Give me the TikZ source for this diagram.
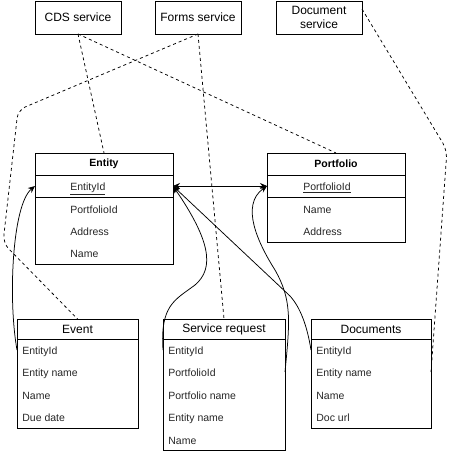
\documentclass[tikz,border=0pt]{standalone}
\usepackage{fontspec}
\setmainfont{Liberation Sans}
\usetikzlibrary{arrows.meta,positioning}

\begin{document}
\begin{tikzpicture}[
		x=1pt, y=-1pt,
		line width=0.75pt,
		svcbox/.style={draw, align=center, minimum width=86pt, minimum height=33pt, inner sep=1pt, outer sep=0pt, font=\fontsize{12}{13.5}\selectfont},
		enthead/.style={draw, minimum width=138pt, minimum height=22pt, outer sep=0pt, font=\fontsize{10.5}{12}\selectfont\bfseries},
		keyrow/.style={draw, minimum width=138pt, minimum height=22pt, outer sep=0pt},
		linkhead/.style={draw, minimum height=20pt, outer sep=0pt, font=\fontsize{12}{14}\selectfont},
		tblbody/.style={draw, outer sep=0pt},
		field/.style={anchor=west, inner sep=0pt, text height=8.5pt, text depth=0pt, text=black!85, font=\fontsize{10.5}{12}\selectfont},
		link/.style={dashed},
		fkarrow/.style={-{Stealth[length=7pt, width=6pt]}}
	]
		\useasboundingbox (0,0) rectangle (450,454);
		\node[svcbox] (cds) at (78,17.5) {CDS service};
		\node[svcbox] (forms) at (198,17.5) {Forms service};
		\node[svcbox] (docsvc) at (319,17.5) {Document\\service};

		\node[enthead] (ent-head) at (104,164) {Entity};
		\node[keyrow, below=0pt of ent-head] (ent-key) {};
		\node[tblbody, minimum width=138pt, minimum height=67pt, below=0pt of ent-key] (ent-body) {};
		\node[field] (ent-eid) at (70,186) {\underline{EntityId}};
		\node[field] (ent-pid) at (70,209) {PortfolioId};
		\node[field] (ent-addr) at (70,231) {Address};
		\node[field] (ent-name) at (70,253) {Name};

		\node[enthead] (pf-head) at (336,164) {Portfolio};
		\node[keyrow, below=0pt of pf-head] (pf-key) {};
		\node[tblbody, minimum width=138pt, minimum height=45pt, below=0pt of pf-key] (pf-body) {};
		\node[field] (pf-pid) at (303,186) {\underline{PortfolioId}};
		\node[field] (pf-name) at (303,209) {Name};
		\node[field] (pf-addr) at (303,231) {Address};

		\node[linkhead, minimum width=121pt] (ev-head) at (77.5,329) {Event};
		\node[tblbody, minimum width=121pt, minimum height=89pt, below=0pt of ev-head] (ev-body) {};
		\node[field] (ev-eid) at (22,350) {EntityId};
		\node[field] (ev-ename) at (22,372) {Entity name};
		\node[field] (ev-name) at (22,395) {Name};
		\node[field] (ev-due) at (22,417) {Due date};

		\node[linkhead, minimum width=122pt] (sr-head) at (224,329) {Service request};
		\node[tblbody, minimum width=122pt, minimum height=111pt, below=0pt of sr-head] (sr-body) {};
		\node[field] (sr-eid) at (168,350) {EntityId};
		\node[field] (sr-pid) at (168,372) {PortfolioId};
		\node[field] (sr-pname) at (168,395) {Portfolio name};
		\node[field] (sr-ename) at (168,417) {Entity name};
		\node[field] (sr-name) at (168,440) {Name};

		\node[linkhead, minimum width=120pt] (doc-head) at (371,329) {Documents};
		\node[tblbody, minimum width=120pt, minimum height=89pt, below=0pt of doc-head] (doc-body) {};
		\node[field] (doc-eid) at (316,350) {EntityId};
		\node[field] (doc-ename) at (316,372) {Entity name};
		\node[field] (doc-name) at (316,395) {Name};
		\node[field] (doc-url) at (316,417) {Doc url};

		\draw[link] (cds.south) -- (ent-head.north);
		\draw[link] (cds.south) -- (pf-head.north);
		\draw[link] (forms.south) -- (sr-head.north);
		\draw[link, rounded corners=8pt] (forms.south) -- (18,110) -- (3,243) -- (ev-head.north);
		\draw[link, rounded corners=8pt] ([yshift=-8pt]docsvc.north east) -- (447,150) -- (doc-body.east |- doc-ename);
		\draw[fkarrow] (ev-body.west |- ev-eid) .. controls (8,300) and (12,205) .. (ent-key.west);
		\draw[fkarrow] (sr-body.west |- sr-eid) .. controls (160,305) and (175,300) .. (195,285) .. controls (215,268) and (210,240) .. (ent-key.east);
		\draw[fkarrow] (sr-body.east |- sr-pid) .. controls (290,320) and (292,300) .. (275,270) .. controls (258,243) and (240,205) .. (pf-key.west);
		\draw[fkarrow] (doc-body.west |- doc-eid) .. controls (307,325) and (300,307) .. (290,296) -- (ent-key.east);
		\draw[{Stealth[length=7pt, width=6pt]}-{Stealth[length=7pt, width=6pt]}] (ent-key.east) -- (pf-key.west);
	\end{tikzpicture}
\end{document}
